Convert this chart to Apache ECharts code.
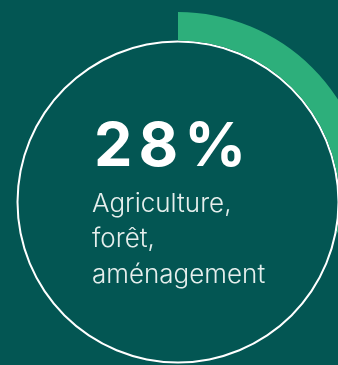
<!DOCTYPE html>
<html>
<head>
<meta charset="utf-8">
<script src="https://cdn.jsdelivr.net/npm/echarts@6/dist/echarts.min.js"></script>
<style>
  html, body { margin: 0; padding: 0; background: #035653; }
  #main { width: 338px; height: 365px; }
</style>
</head>
<body>
<div id="main"></div>
<script>
// share of the sector, in percent
const shareLabel = 'Agriculture, forêt, aménagement'
const shareValue = 28
const restValue = 100 - shareValue
const labelLines = ['Agriculture,', 'forêt,', 'aménagement']

const chart = echarts.init(document.getElementById('main'))

const center = [178, 202]

// big number, each glyph spaced a little apart like the original
const bigText = (shareValue + '%').split('').map((c, i, arr) =>
  '{' + (i < arr.length - 1 ? 'd' : 'e') + '|' + c + '}'
).join('')

const option = {
  backgroundColor: '#035653',
  animation: false,
  series: [
    {
      // thin white ring
      type: 'pie',
      silent: true,
      center: center,
      radius: [159.5, 161.5],
      label: { show: false },
      labelLine: { show: false },
      itemStyle: { color: '#ffffff' },
      data: [{ name: 'ring', value: 1 }]
    },
    {
      type: 'pie',
      silent: true,
      center: center,
      radius: [161.5, 190],
      startAngle: 90,
      clockwise: true,
      label: { show: false },
      labelLine: { show: false },
      data: [
        { name: shareLabel, value: shareValue, itemStyle: { color: '#2daf7b' } },
        { name: 'reste', value: restValue, itemStyle: { color: 'rgba(0,0,0,0)' } }
      ]
    }
  ],
  graphic: [
    {
      type: 'text',
      left: 94,
      top: 117,
      style: {
        text: bigText,
        rich: {
          d: {
            fill: '#ffffff',
            font: 'bold 61px Inter',
            lineHeight: 61,
            padding: [0, 6, 0, 0]
          },
          e: {
            fill: '#ffffff',
            font: 'bold 61px Inter',
            lineHeight: 61
          }
        }
      }
    },
    {
      type: 'text',
      left: 92,
      top: 186,
      style: {
        text: labelLines.join('\n'),
        fill: '#e6efed',
        font: '300 26px Inter',
        lineHeight: 35.5
      }
    }
  ]
}

chart.setOption(option)
window.addEventListener('resize', () => chart.resize())
</script>
</body>
</html>
